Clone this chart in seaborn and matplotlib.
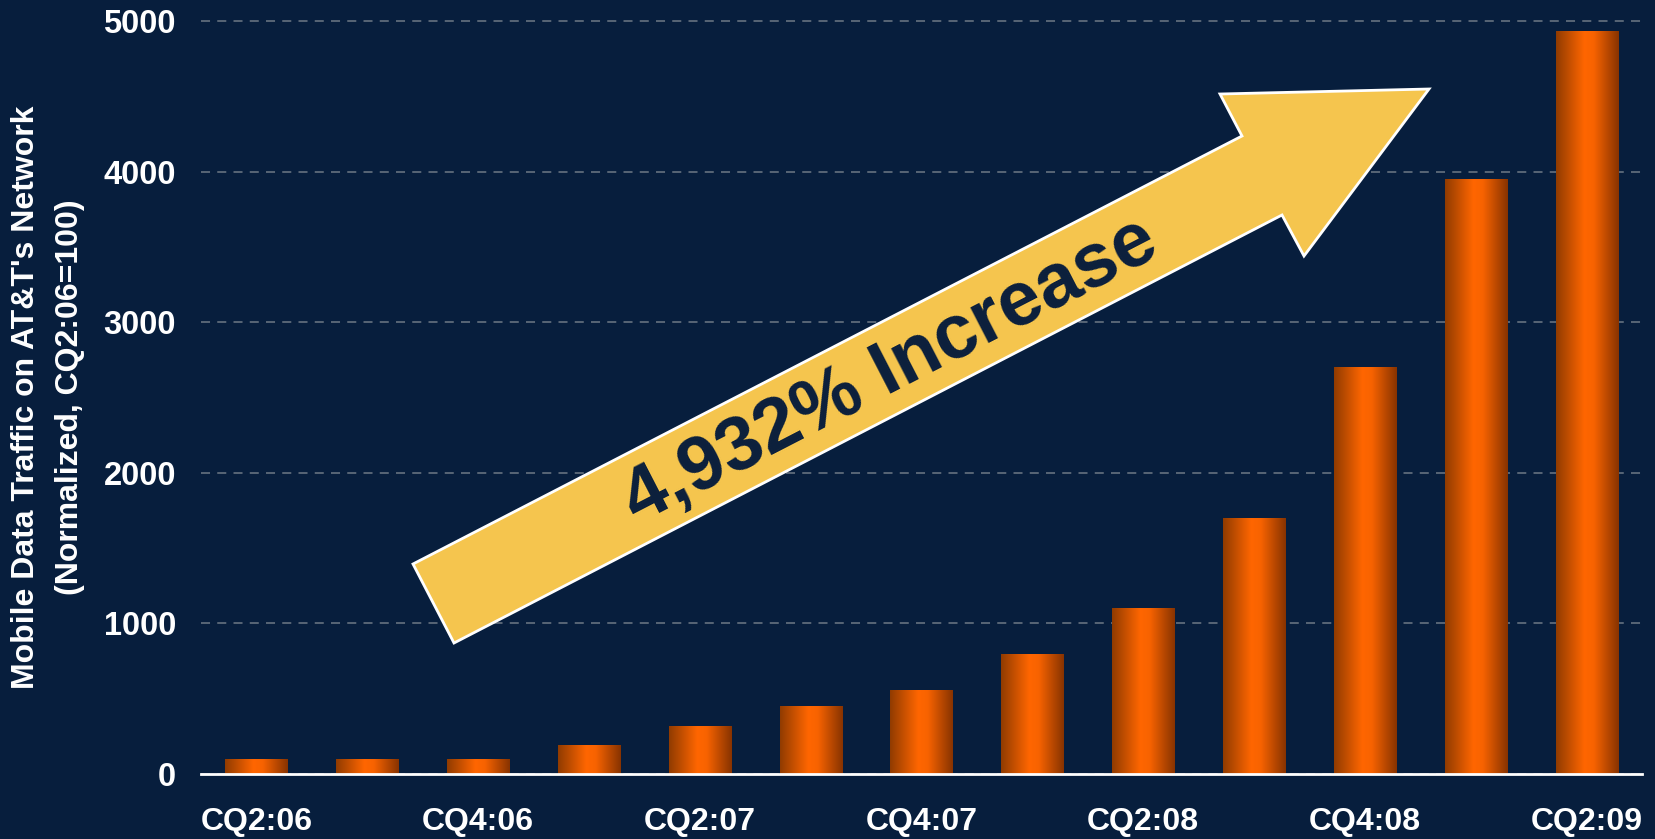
import numpy as np
import pandas as pd
import matplotlib
matplotlib.use("Agg")
import matplotlib.pyplot as plt
from matplotlib.colors import LinearSegmentedColormap
from matplotlib.patches import Polygon
import seaborn as sns

# ---- data ----
quarters = ["CQ2:06", "CQ3:06", "CQ4:06", "CQ1:07", "CQ2:07", "CQ3:07", "CQ4:07",
            "CQ1:08", "CQ2:08", "CQ3:08", "CQ4:08", "CQ1:09", "CQ2:09"]
traffic = [100, 100, 100, 190, 320, 450, 555, 795, 1100, 1700, 2705, 3950, 4932]
shown_labels = ["CQ2:06", "CQ4:06", "CQ2:07", "CQ4:07", "CQ2:08", "CQ4:08", "CQ2:09"]
y_ticks = [0, 1000, 2000, 3000, 4000, 5000]
y_label = "Mobile Data Traffic on AT&T's Network\n(Normalized, CQ2:06=100)"
callout = "4,932% Increase"

BG = "#071e3d"
W, H = 1656, 839

sns.set_theme(style="white")
plt.rcParams["font.family"] = ["Liberation Sans", "DejaVu Sans"]
plt.rcParams["font.weight"] = "bold"

fig = plt.figure(figsize=(W / 100, H / 100), dpi=100, facecolor=BG)
ax = fig.add_axes([201 / W, 65 / H, (1642 - 201) / W, 760.5 / H])
ax.set_facecolor(BG)

df = pd.DataFrame({"quarter": quarters, "traffic": traffic})
sns.barplot(data=df, x="quarter", y="traffic", ax=ax, width=0.56,
            color="#ff6600", saturation=1, linewidth=0, edgecolor="none", zorder=3)

# gradient fill for bars
cmap = LinearSegmentedColormap.from_list(
    "bar", [(0, "#903b00"), (0.45, "#ff6600"), (0.6, "#f86300"), (1, "#873300")])
grad = np.linspace(0, 1, 256).reshape(1, -1)
for p in list(ax.patches):
    x0, y0, w, h = p.get_x(), p.get_y(), p.get_width(), p.get_height()
    im = ax.imshow(grad, cmap=cmap, aspect="auto", extent=[x0, x0 + w, y0, y0 + h],
                   zorder=4, interpolation="bicubic")
    im.set_clip_path(p)

ax.set_xlim(-0.5, 12.5)
ax.set_ylim(0, 5050)

# axes styling
for s in ["top", "right", "left"]:
    ax.spines[s].set_visible(False)
ax.spines["bottom"].set_color("white")
ax.spines["bottom"].set_linewidth(2)
ax.spines["bottom"].set_zorder(6)

ax.set_xticks(np.arange(-0.5, 13, 1.0))
ax.set_xticklabels([])
ax.tick_params(axis="x", which="major", length=8, width=1.6, color="white", direction="out")
pos = [quarters.index(q) for q in shown_labels]
ax.set_xticks(pos, minor=True)
ax.set_xticklabels(shown_labels, minor=True)
ax.tick_params(axis="x", which="minor", length=0, pad=24, labelsize=23,
               labelcolor="white")
for t in ax.get_xticklabels(minor=True):
    t.set_fontweight("bold")

ax.set_yticks(y_ticks)
ax.set_yticklabels([str(v) for v in y_ticks])
ax.tick_params(axis="y", length=0, pad=18, labelsize=23.5, labelcolor="white")
for t in ax.get_yticklabels():
    t.set_fontweight("bold")

ax.yaxis.grid(True, color="#5e6b7a", linestyle=(0, (5, 4)), linewidth=1.3, zorder=1)
ax.set_axisbelow(True)
ax.set_xlabel("")
ax.set_ylabel("")

fig.text(48 / W, 1 - 397 / H, y_label, rotation=90, ha="center", va="center",
         multialignment="center", fontsize=23, fontweight="bold", color="white",
         linespacing=1.6)

# callout arrow (figure pixel coordinates)
arrow_px = np.array([(413, 564), (1242, 136), (1220, 94), (1429, 89),
                     (1304, 256), (1282, 215), (454, 643)], dtype=float)
arrow_fig = np.column_stack([arrow_px[:, 0] / W, 1 - arrow_px[:, 1] / H])
fig.add_artist(Polygon(arrow_fig, closed=True, facecolor="#f5c54e",
                       edgecolor="white", linewidth=2, transform=fig.transFigure,
                       zorder=10))
fig.text(891 / W, 1 - 372 / H, callout, rotation=27.3, rotation_mode="anchor",
         ha="center", va="center", fontsize=55, fontweight="bold",
         color="#0b1f3c", zorder=11)

fig.savefig("out.png", dpi=100, facecolor=BG)
